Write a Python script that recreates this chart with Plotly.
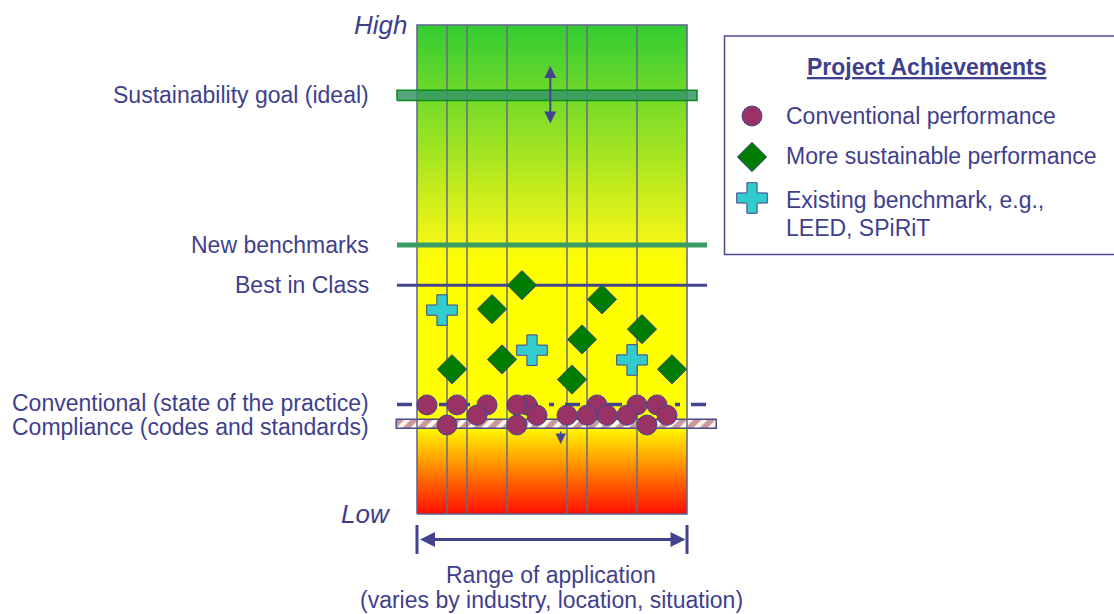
import numpy as np
import plotly.graph_objects as go

# ---- data -------------------------------------------------------------
# Performance scale: 0 = Low, 100 = High.  Range of application: 0 .. 27.
range_bounds = [0, 3, 5, 9, 15, 17, 22, 27]          # application segments

goal_level = 85.6          # Sustainability goal (ideal)
new_bench_level = 55.0     # New benchmarks
best_class_level = 46.8    # Best in Class
conventional_level = 22.4  # Conventional (state of the practice)
compliance_level = 18.3    # Compliance (codes and standards)

conv_x = [1, 4, 7, 11, 10, 18, 22, 24, 6, 12, 15, 17, 19, 21, 25, 3, 10, 23]
conv_y = [22.3, 22.3, 22.3, 22.3, 22.3, 22.3, 22.3, 22.3,
          20.2, 20.2, 20.2, 20.2, 20.2, 20.2, 20.2,
          18.2, 18.2, 18.2]

sust_x = [10.5, 7.5, 18.5, 22.5, 16.5, 8.5, 3.5, 15.5, 25.5]
sust_y = [46.8, 41.9, 43.9, 37.8, 35.7, 31.6, 29.6, 27.5, 29.6]

bench_x = [2.5, 11.5, 21.5]
bench_y = [41.7, 33.5, 31.5]

level_labels = ["Sustainability goal (ideal)", "New benchmarks", "Best in Class",
                "Conventional (state of the practice)", "Compliance (codes and standards)"]

# ---- canvas geometry (pixel <-> data) ---------------------------------
W, H = 1114, 614
X0_PX, X_SCALE = 417.0, 10.0          # px of x=0, px per unit
Y0_PX, Y_SCALE = 514.0, 4.89          # px of y=0, px per unit


def dx(px):
    return (px - X0_PX) / X_SCALE


def dy(py):
    return (Y0_PX - py) / Y_SCALE


NAVY = "#3F3F8C"
FONT = "Liberation Sans, Arial, sans-serif"

fig = go.Figure()

# gradient column (red -> yellow -> green)
n = 300
y_edges = np.linspace(0, 100, n + 1)
y_mid = (y_edges[:-1] + y_edges[1:]) / 2
fig.add_trace(go.Heatmap(
    x=[0, range_bounds[-1]], y=y_edges, z=y_mid.reshape(-1, 1),
    zmin=0, zmax=100, showscale=False, hoverinfo="skip",
    colorscale=[[0.0, "rgb(255,15,0)"], [0.06, "rgb(255,90,0)"],
                [0.18, "rgb(255,255,0)"], [0.51, "rgb(255,255,0)"],
                [0.56, "rgb(242,246,22)"], [1.0, "rgb(50,204,50)"]],
))

# segment dividers
for b in range_bounds[1:-1]:
    fig.add_trace(go.Scatter(x=[b, b], y=[0, 100], mode="lines",
                             line=dict(color="#6a6a86", width=1.5),
                             hoverinfo="skip", showlegend=False))
# column outline
fig.add_trace(go.Scatter(x=[0, 0, range_bounds[-1], range_bounds[-1], 0],
                         y=[0, 100, 100, 0, 0], mode="lines",
                         line=dict(color="#60608e", width=1.5),
                         hoverinfo="skip", showlegend=False))

# sustainability goal band
gh = 1.05
fig.add_trace(go.Scatter(
    x=[dx(397), dx(697), dx(697), dx(397), dx(397)],
    y=[goal_level - gh, goal_level - gh, goal_level + gh, goal_level + gh, goal_level - gh],
    mode="lines", fill="toself", fillcolor="rgba(55,150,105,0.85)",
    line=dict(color="#0a8a1a", width=1.5), hoverinfo="skip", showlegend=False))

# new benchmarks
fig.add_trace(go.Scatter(x=[dx(397), dx(707)], y=[new_bench_level] * 2, mode="lines",
                         line=dict(color="#3a9e64", width=5),
                         hoverinfo="skip", showlegend=False))
# best in class
fig.add_trace(go.Scatter(x=[dx(397), dx(707)], y=[best_class_level] * 2, mode="lines",
                         line=dict(color="#44448e", width=3),
                         hoverinfo="skip", showlegend=False))
# conventional (dash-dot)
fig.add_trace(go.Scatter(x=[dx(397), dx(717)], y=[conventional_level] * 2, mode="lines",
                         line=dict(color="#44448e", width=3.5, dash="15px,11px,5px,11px"),
                         hoverinfo="skip", showlegend=False))
# compliance (hatched band)
fig.add_trace(go.Bar(
    y=[compliance_level], x=[dx(717) - dx(397)], base=[dx(397)], orientation="h",
    width=1.95,
    marker=dict(color="#fffbee", line=dict(color="#4a4a8e", width=1.5),
                pattern=dict(shape="/", fgcolor="#963658", bgcolor="#fff8e6",
                             size=10, solidity=0.55)),
    hoverinfo="skip", showlegend=False))

# project markers
mk_line = dict(color="#45458e", width=1)
fig.add_trace(go.Scatter(x=sust_x, y=sust_y, mode="markers", showlegend=False,
                         marker=dict(symbol="diamond", size=22.5, color="#007d00", line=mk_line)))
fig.add_trace(go.Scatter(x=bench_x, y=bench_y, mode="markers", showlegend=False,
                         marker=dict(symbol="cross", size=25.5, color="#33cccc", line=mk_line)))
fig.add_trace(go.Scatter(x=conv_x, y=conv_y, mode="markers", showlegend=False,
                         marker=dict(symbol="circle", size=20, color="#993366", line=mk_line)))

# range-of-application bracket ends
for b in (range_bounds[0], range_bounds[-1]):
    fig.add_trace(go.Scatter(x=[b, b], y=[dy(525), dy(554)], mode="lines",
                             line=dict(color="#44448e", width=3),
                             hoverinfo="skip", showlegend=False))

# legend symbols
lx = dx(752)
fig.add_trace(go.Scatter(x=[lx], y=[dy(116)], mode="markers", showlegend=False,
                         marker=dict(symbol="circle", size=20, color="#993366", line=mk_line)))
fig.add_trace(go.Scatter(x=[lx], y=[dy(157)], mode="markers", showlegend=False,
                         marker=dict(symbol="diamond", size=22.5, color="#007d00", line=mk_line)))
fig.add_trace(go.Scatter(x=[lx], y=[dy(198)], mode="markers", showlegend=False,
                         marker=dict(symbol="cross", size=25.5, color="#33cccc", line=mk_line)))

annotations = []


def text(x, y, s, size=23, xanchor="center", **kw):
    annotations.append(dict(x=x, y=y, xref="x", yref="y", text=s, showarrow=False,
                            xanchor=xanchor, yanchor="middle",
                            font=dict(family=FONT, size=size, color=NAVY), **kw))


# level labels
label_x = dx(371)
label_y = [goal_level, new_bench_level, best_class_level,
           conventional_level + 0.3, compliance_level - 0.5]
for s, yv in zip(level_labels, label_y):
    text(label_x, yv, s, xanchor="right")

text(dx(380), 100, "<i>High</i>", size=26)
text(dx(366), 0, "<i>Low</i>", size=26)

text(dx(551), dy(575), "Range of application")
text(dx(551), dy(600), "(varies by industry, location, situation)")

# legend texts
text(dx(926), dy(67), "<b><u>Project Achievements</u></b>")
text(dx(784), dy(116), "Conventional performance", xanchor="left")
text(dx(784), dy(156), "More sustainable performance", xanchor="left")
text(dx(784), dy(200), "Existing benchmark, e.g.,", xanchor="left")
text(dx(784), dy(228), "LEED, SPiRiT", xanchor="left")

# arrows
arrow_common = dict(xref="x", yref="y", axref="x", ayref="y", text="", showarrow=True,
                    arrowcolor="#44448e", arrowhead=2)
annotations.append(dict(x=dx(550.3), y=dy(66), ax=dx(550.3), ay=dy(125),
                        arrowside="end+start", arrowwidth=2, arrowsize=1.2, **arrow_common))
annotations.append(dict(x=dx(560.7), y=dy(444), ax=dx(560.7), ay=dy(430),
                        arrowwidth=1.5, arrowsize=1.4, **arrow_common))
annotations.append(dict(x=range_bounds[-1] - 0.15, y=dy(539.5), ax=range_bounds[0] + 0.15,
                        ay=dy(539.5), arrowside="end+start", arrowwidth=3, arrowsize=1,
                        **arrow_common))

fig.update_layout(
    width=W, height=H,
    margin=dict(l=0, r=0, t=0, b=0),
    paper_bgcolor="white", plot_bgcolor="white",
    showlegend=False,
    xaxis=dict(range=[dx(0), dx(W)], visible=False, fixedrange=True),
    yaxis=dict(range=[dy(H), dy(0)], visible=False, fixedrange=True),
    annotations=annotations,
    shapes=[dict(type="rect", xref="paper", yref="paper",
                 x0=724.5 / W, x1=1.02, y0=1 - 254.5 / H, y1=1 - 36 / H,
                 line=dict(color="#4a4a8e", width=1.5), fillcolor="rgba(0,0,0,0)")],
    bargap=0,
)

fig.write_html("out.html")
